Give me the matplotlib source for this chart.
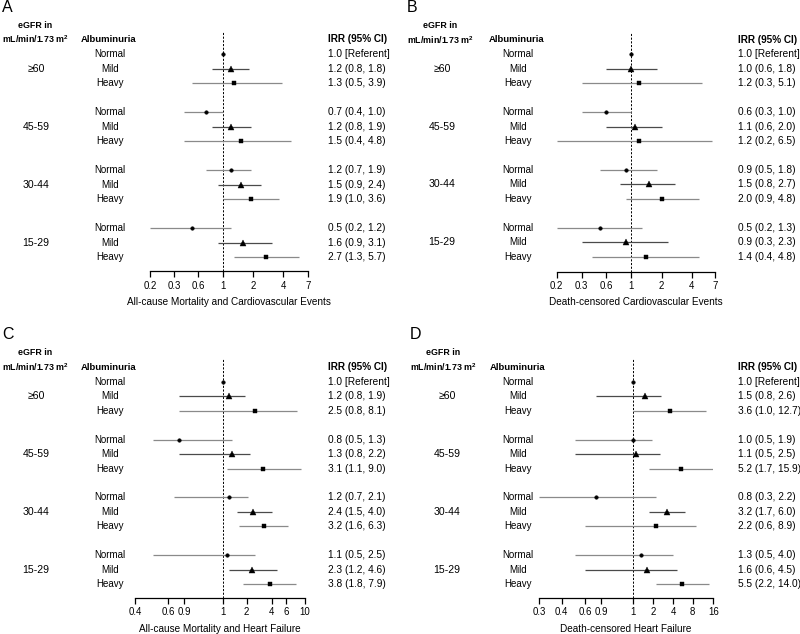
import numpy as np
import matplotlib
matplotlib.use('Agg')
import matplotlib.pyplot as plt
from matplotlib.transforms import blended_transform_factory

plt.rcParams['font.family'] = ['Liberation Sans', 'DejaVu Sans']
plt.rcParams['mathtext.default'] = 'regular'

# ---------------- data ----------------
egfr_groups = ['\u226560', '45-59', '30-44', '15-29']
albuminuria = ['Normal', 'Mild', 'Heavy']

# Panel A: All-cause Mortality and Cardiovascular Events
irr_A = [1.0, 1.2, 1.3, 0.7, 1.2, 1.5, 1.2, 1.5, 1.9, 0.5, 1.6, 2.7]
lo_A = [np.nan, 0.8, 0.5, 0.4, 0.8, 0.4, 0.7, 0.9, 1.0, 0.2, 0.9, 1.3]
hi_A = [np.nan, 1.8, 3.9, 1.0, 1.9, 4.8, 1.9, 2.4, 3.6, 1.2, 3.1, 5.7]
ticks_A = [0.2, 0.3, 0.6, 1, 2, 4, 7]
ticklabels_A = ['0.2', '0.3', '0.6', '1', '2', '4', '7']
xlabel_A = 'All-cause Mortality and Cardiovascular Events'

# Panel B: Death-censored Cardiovascular Events
irr_B = [1.0, 1.0, 1.2, 0.6, 1.1, 1.2, 0.9, 1.5, 2.0, 0.5, 0.9, 1.4]
lo_B = [np.nan, 0.6, 0.3, 0.3, 0.6, 0.2, 0.5, 0.8, 0.9, 0.2, 0.3, 0.4]
hi_B = [np.nan, 1.8, 5.1, 1.0, 2.0, 6.5, 1.8, 2.7, 4.8, 1.3, 2.3, 4.8]
ticks_B = [0.2, 0.3, 0.6, 1, 2, 4, 7]
ticklabels_B = ['0.2', '0.3', '0.6', '1', '2', '4', '7']
xlabel_B = 'Death-censored Cardiovascular Events'

# Panel C: All-cause Mortality and Heart Failure
irr_C = [1.0, 1.2, 2.5, 0.8, 1.3, 3.1, 1.2, 2.4, 3.2, 1.1, 2.3, 3.8]
lo_C = [np.nan, 0.8, 0.8, 0.5, 0.8, 1.1, 0.7, 1.5, 1.6, 0.5, 1.2, 1.8]
hi_C = [np.nan, 1.9, 8.1, 1.3, 2.2, 9.0, 2.1, 4.0, 6.3, 2.5, 4.6, 7.9]
ticks_C = [0.4, 0.6, 0.9, 1, 2, 4, 6, 10]
ticklabels_C = ['0.4', '0.6', '0.9', '1', '2', '4', '6', '10']
xlabel_C = 'All-cause Mortality and Heart Failure'

# Panel D: Death-censored Heart Failure
irr_D = [1.0, 1.5, 3.6, 1.0, 1.1, 5.2, 0.8, 3.2, 2.2, 1.3, 1.6, 5.5]
lo_D = [np.nan, 0.8, 1.0, 0.5, 0.5, 1.7, 0.3, 1.7, 0.6, 0.5, 0.6, 2.2]
hi_D = [np.nan, 2.6, 12.7, 1.9, 2.5, 15.9, 2.2, 6.0, 8.9, 4.0, 4.5, 14.0]
ticks_D = [0.3, 0.4, 0.6, 0.9, 1, 2, 4, 8, 16]
ticklabels_D = ['0.3', '0.4', '0.6', '0.9', '1', '2', '4', '8', '16']
xlabel_D = 'Death-censored Heart Failure'

# ---------------- layout (pixels in an 800x634 canvas) ----------------
W, H = 800, 634
layouts = {
    'A': dict(tickpx=[150, 174.3, 198.3, 222.7, 253.3, 283.3, 308.3],
              top=32, axis=271, row0=54, step=14.5,
              letter=(2, 8), egfr_x=35, group_x=36, alb_x=109, row_x=110, irr_x=328,
              egfr_row=-2, head_row=-1),
    'B': dict(tickpx=[556.7, 581.7, 606, 630.7, 661.7, 691.7, 715],
              top=32, axis=271.5, row0=54.3, step=14.45,
              letter=(407, 8), egfr_x=440, group_x=442, alb_x=517, row_x=518, irr_x=738,
              egfr_row=-2, head_row=-1),
    'C': dict(tickpx=[135, 168, 184, 223.3, 246.7, 271.7, 286, 305],
              top=359, axis=597.7, row0=381.7, step=14.47,
              letter=(2, 334), egfr_x=35, group_x=36, alb_x=109, row_x=110, irr_x=328,
              egfr_row=-2, head_row=-1),
    'D': dict(tickpx=[539, 561.7, 585, 601, 633.3, 653.3, 673.3, 692.7, 713.3],
              top=359, axis=597.7, row0=381.7, step=14.47,
              letter=(410, 334), egfr_x=443, group_x=447, alb_x=518, row_x=518, irr_x=738,
              egfr_row=-2, head_row=-1),
}

FS_ROW = 7.0
FS_IRR = 7.3
FS_GROUP = 7.6
FS_EGFR = 6.4
FS_ALB = 6.8
FS_IRRHEAD = 7.2
FS_TICK = 6.9
FS_XLAB = 7.2
markers = ['o', '^', 's']
msizes = [2.6, 4.0, 3.2]
line_colors = ['#8a8a8a', '#4a4a4a', '#8a8a8a']

fig = plt.figure(figsize=(W / 100, H / 100), dpi=100)


def make_scale(ticks, px):
    lt = np.log(np.asarray(ticks, float))
    p = np.asarray(px, float)

    def fwd(v):
        v = np.asarray(v, float)
        lv = np.log(np.where(v > 0, v, 1e-12))
        return np.interp(lv, lt, p)

    def inv(u):
        return np.exp(np.interp(np.asarray(u, float), p, lt))
    return fwd, inv


def draw_panel(key, irr, lo, hi, ticks, ticklabels, xlabel):
    L = layouts[key]
    px = L['tickpx']
    left = px[0] / W
    width = (px[-1] - px[0]) / W
    bottom = 1 - L['axis'] / H
    height = (L['axis'] - L['top']) / H
    ax = fig.add_axes([left, bottom, width, height])
    fwd, inv = make_scale(ticks, px)
    ax.set_xscale('function', functions=(fwd, inv))
    ax.set_xlim(ticks[0], ticks[-1])
    ybot = (L['axis'] - L['row0']) / L['step']
    ytop = (L['top'] - L['row0']) / L['step']
    ax.set_ylim(ybot, ytop)
    for s in ['top', 'right', 'left']:
        ax.spines[s].set_visible(False)
    ax.spines['bottom'].set_linewidth(0.9)
    ax.set_yticks([])
    ax.set_xticks(ticks)
    ax.set_xticklabels(ticklabels, fontsize=FS_TICK)
    ax.xaxis.set_minor_locator(matplotlib.ticker.NullLocator())
    ax.tick_params(axis='x', length=4, width=0.9, pad=3)
    ax.set_xlabel(xlabel, fontsize=FS_XLAB, labelpad=4.5)
    ax.patch.set_alpha(0)

    ax.axvline(1, color='black', lw=0.7, ls=(0, (2.2, 1.6)), zorder=1)

    tr = blended_transform_factory(fig.transFigure, ax.transData)
    for g in range(len(egfr_groups)):
        for k in range(len(albuminuria)):
            i = 3 * g + k
            r = 4 * g + k
            if not np.isnan(lo[i]):
                ax.plot([lo[i], hi[i]], [r, r], color=line_colors[k], lw=0.9,
                        solid_capstyle='butt', zorder=2)
                txt = f'{irr[i]:.1f} ({lo[i]:.1f}, {hi[i]:.1f})'
            else:
                txt = f'{irr[i]:.1f} [Referent]'
            ax.plot([irr[i]], [r], marker=markers[k], ms=msizes[k], color='black',
                    mec='black', mew=0.3, ls='none', zorder=3)
            ax.text(L['row_x'] / W, r, albuminuria[k], transform=tr, fontsize=FS_ROW,
                    ha='center', va='center')
            ax.text(L['irr_x'] / W, r, txt, transform=tr, fontsize=FS_IRR,
                    ha='left', va='center')
        ax.text(L['group_x'] / W, 4 * g + 1, egfr_groups[g], transform=tr,
                fontsize=FS_GROUP, ha='center', va='center')

    ax.text(L['egfr_x'] / W, L['egfr_row'], 'eGFR in', transform=tr, fontsize=FS_EGFR,
            fontweight='bold', ha='center', va='center')
    ax.text(L['egfr_x'] / W, L['head_row'], 'mL/min/1.73 m$^2$', transform=tr,
            fontsize=FS_EGFR, fontweight='bold', ha='center', va='center')
    ax.text(L['alb_x'] / W, L['head_row'], 'Albuminuria', transform=tr, fontsize=FS_ALB,
            fontweight='bold', ha='center', va='center')
    ax.text(L['irr_x'] / W, L['head_row'], 'IRR (95% CI)', transform=tr,
            fontsize=FS_IRRHEAD, fontweight='bold', ha='left', va='center')
    fig.text(L['letter'][0] / W, 1 - L['letter'][1] / H, key, fontsize=11.5,
             ha='left', va='center')
    return ax


draw_panel('A', irr_A, lo_A, hi_A, ticks_A, ticklabels_A, xlabel_A)
draw_panel('B', irr_B, lo_B, hi_B, ticks_B, ticklabels_B, xlabel_B)
draw_panel('C', irr_C, lo_C, hi_C, ticks_C, ticklabels_C, xlabel_C)
draw_panel('D', irr_D, lo_D, hi_D, ticks_D, ticklabels_D, xlabel_D)

fig.savefig('out.png', dpi=100, facecolor='white')
